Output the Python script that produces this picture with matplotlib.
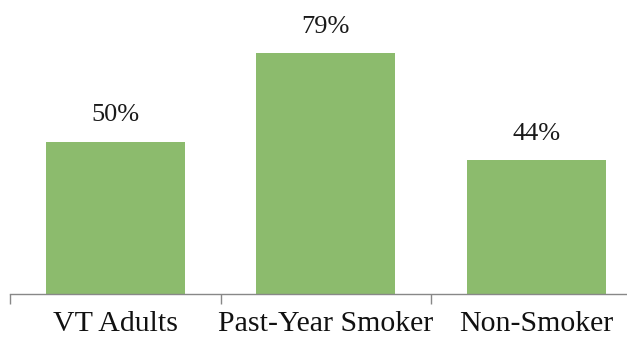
import matplotlib
matplotlib.use("Agg")
import matplotlib.pyplot as plt
from matplotlib.ticker import FixedLocator

categories = ["VT Adults", "Past-Year Smoker", "Non-Smoker"]
values = [50, 79, 44]

plt.rcParams['font.family'] = ['Liberation Serif', 'DejaVu Serif']

fig = plt.figure(figsize=(6.27, 3.39), dpi=100)
# axes run slightly past the right edge of the figure
ax = fig.add_axes([10 / 627, 45 / 339, 631.5 / 627, 274.5 / 339])

x = list(range(len(categories)))
bars = ax.bar(x, values, width=0.66, color="#8CBB6D", zorder=2)

for xi, v in zip(x, values):
    ax.annotate(f"{v}%", (xi, v), xytext=(0, 11), textcoords="offset points",
                ha="center", va="bottom", fontsize=19, color="#1a1a1a")

ax.set_xlim(-0.5, len(categories) - 0.5)
ax.set_ylim(0, 90)

ax.set_xticks(x)
ax.set_xticklabels(categories, fontsize=21.5, color="#111111")
ax.tick_params(axis="x", which="major", length=0, pad=12)
ax.xaxis.set_minor_locator(FixedLocator([-0.5, 0.5, 1.5, 2.5]))
ax.tick_params(axis="x", which="minor", length=7, width=1, color="#888888")

ax.set_yticks([])
for side in ["top", "right", "left"]:
    ax.spines[side].set_visible(False)
ax.spines["bottom"].set_color("#888888")
ax.spines["bottom"].set_linewidth(1)

fig.savefig("out.png", dpi=100)
